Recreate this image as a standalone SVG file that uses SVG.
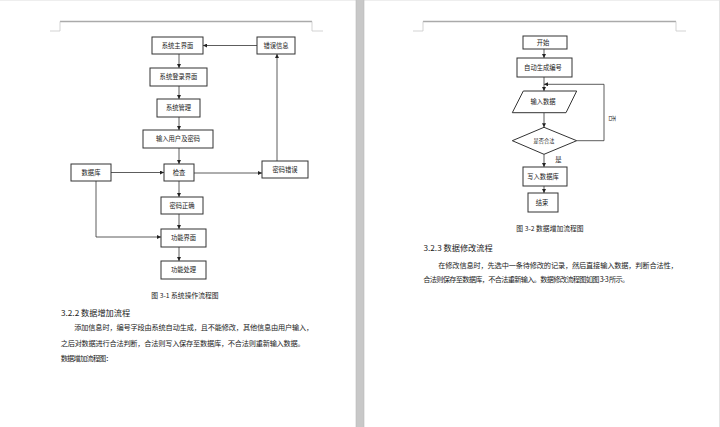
<svg xmlns="http://www.w3.org/2000/svg" width="720" height="427" viewBox="0 0 720 427">
<style>
.box{fill:#fff;stroke:#333;stroke-width:1}
.lbl{font-family:"Noto Sans CJK SC","Liberation Sans",sans-serif;font-size:6.3px;fill:#222;text-anchor:middle}
.cap{font-family:"Noto Sans CJK SC","Liberation Sans",sans-serif;font-size:6.8px;fill:#222;text-anchor:middle}
.h{font-family:"Noto Sans CJK SC","Liberation Sans",sans-serif;font-size:8.2px;fill:#222}
.body{font-family:"Noto Sans CJK SC","Liberation Sans",sans-serif;font-size:7.2px;fill:#222}
.con{fill:none;stroke:#333;stroke-width:0.8}
.hdr{stroke:#aaa;stroke-width:1.3;fill:none}
.tick{stroke:#c8c8c8;stroke-width:0.8;fill:none}
</style>
<defs>
<marker id="ar" markerWidth="4" markerHeight="4" refX="4" refY="2" orient="auto" markerUnits="userSpaceOnUse">
<path d="M0,0 L4,2 L0,4 Z" fill="#222"/>
</marker>
</defs>
<rect x="0" y="0" width="720" height="427" fill="#fff"/>
<line x1="0" y1="0.5" x2="720" y2="0.5" stroke="#eee" stroke-width="1"/>
<rect x="356" y="0" width="8" height="427" fill="#c8c8c8"/>
<line x1="356" y1="0" x2="356" y2="427" stroke="#bbb" stroke-width="0.6"/>
<line x1="364" y1="0" x2="364" y2="427" stroke="#bbb" stroke-width="0.6"/>
<line x1="719.5" y1="0" x2="719.5" y2="427" stroke="#e4e4e4" stroke-width="1"/>

<!-- page headers -->
<g id="page-headers">
<path class="hdr" d="M60,21.5 H312"/>
<path class="tick" d="M60,21.5 V31 H50"/>
<path class="tick" d="M312,21.5 V31 H323"/>
<path class="hdr" d="M423,21.5 H676"/>
<path class="tick" d="M423,21.5 V31 H413"/>
<path class="tick" d="M676,21.5 V31 H686"/>
</g>

<!-- left diagram connectors -->
<g id="connectors-left">
<path class="con" d="M179,54 V68" marker-end="url(#ar)"/>
<path class="con" d="M179,86 V99" marker-end="url(#ar)"/>
<path class="con" d="M179,117 V130" marker-end="url(#ar)"/>
<path class="con" d="M179,148 V164" marker-end="url(#ar)"/>
<path class="con" d="M179,181 V197" marker-end="url(#ar)"/>
<path class="con" d="M179,214 V229" marker-end="url(#ar)"/>
<path class="con" d="M179,247 V261" marker-end="url(#ar)"/>
<path class="con" d="M111,172.5 H164" marker-end="url(#ar)"/>
<path class="con" d="M194,173 H262" marker-end="url(#ar)"/>
<path class="con" d="M277,161 V54" marker-end="url(#ar)"/>
<path class="con" d="M257,45.5 H203" marker-end="url(#ar)"/>
<path class="con" d="M96,181 V237 H161" marker-end="url(#ar)"/>
</g>

<g id="n-main"><rect class="box" x="152" y="37" width="51" height="17"/><text class="lbl" x="177.5" y="47.8">系统主界面</text></g>
<g id="n-err"><rect class="box" x="257" y="37" width="38" height="17"/><text class="lbl" x="276" y="47.8">错误信息</text></g>
<g id="n-login"><rect class="box" x="150" y="68" width="57" height="18"/><text class="lbl" x="178.5" y="79.2">系统登录界面</text></g>
<g id="n-mgr"><rect class="box" x="157" y="99" width="43" height="18"/><text class="lbl" x="178.5" y="110.2">系统管理</text></g>
<g id="n-input"><rect class="box" x="143" y="130" width="70" height="18"/><text class="lbl" x="178" y="141.2">输入用户及密码</text></g>
<g id="n-db"><rect class="box" x="71" y="164" width="40" height="17"/><text class="lbl" x="91" y="174.8">数据库</text></g>
<g id="n-check"><rect class="box" x="164" y="164" width="30" height="17"/><text class="lbl" x="179" y="174.8">检查</text></g>
<g id="n-pwderr"><rect class="box" x="262" y="161" width="46" height="17"/><text class="lbl" x="285" y="171.8">密码错误</text></g>
<g id="n-pwdok"><rect class="box" x="161" y="197" width="42" height="17"/><text class="lbl" x="182" y="207.8">密码正确</text></g>
<g id="n-func"><rect class="box" x="161" y="229" width="45" height="18"/><text class="lbl" x="183.5" y="240.2">功能界面</text></g>
<g id="n-proc"><rect class="box" x="161" y="261" width="45" height="18"/><text class="lbl" x="183.5" y="272.2">功能处理</text></g>

<text class="cap" x="185" y="298.4">图 3-1 系统操作流程图</text>

<text class="h" x="61" y="316">3.2.2 数据增加流程</text>
<text class="body" x="74.3" y="330" textLength="239" lengthAdjust="spacing">添加信息时，编号字段由系统自动生成，且不能修改，其他信息由用户输入，</text>
<text class="body" x="60.7" y="346" textLength="244" lengthAdjust="spacing">之后对数据进行合法判断，合法则写入保存至数据库，不合法则重新输入数据。</text>
<text class="body" x="60.7" y="361" textLength="52" lengthAdjust="spacing">数据增加流程图：</text>

<!-- right diagram connectors -->
<g id="connectors-right">
<path class="con" d="M544,49 V58" marker-end="url(#ar)"/>
<path class="con" d="M544,77 V91" marker-end="url(#ar)"/>
<path class="con" d="M544,112.7 V127.3" marker-end="url(#ar)"/>
<path class="con" d="M544,154.3 V167" marker-end="url(#ar)"/>
<path class="con" d="M544,186 V193" marker-end="url(#ar)"/>
<path class="con" d="M576.7,140.7 H604 V84.3 H544" marker-end="url(#ar)"/>
</g>

<g id="n-start"><rect class="box" x="523" y="36" width="44" height="13"/><text class="lbl" x="543" y="44.7">开始</text></g>
<g id="n-autoid"><rect class="box" x="517" y="58" width="55" height="19"/><text class="lbl" x="543" y="69.7">自动生成编号</text></g>
<g id="n-inputdata"><polygon class="box" points="523.3,91 576.7,91 566,112.7 512.3,112.7"/><text class="lbl" x="543" y="104">输入数据</text></g>
<g id="n-valid"><polygon class="box" points="544,127.3 576.7,140.7 544,154.3 512.3,140.7"/><text class="lbl" x="544" y="142.6" style="font-size:5.2px">是否合法</text></g>
<g id="n-write"><rect class="box" x="523" y="167" width="44" height="19"/><text class="lbl" x="543" y="178.7">写入数据库</text></g>
<g id="n-end"><rect class="box" x="528" y="193" width="30" height="19"/><text class="lbl" x="542" y="204.7">结束</text></g>

<text class="lbl" x="558.5" y="162.3">是</text>
<text class="lbl" transform="translate(612.7,118.3) rotate(90)" y="2.2">否</text>

<text class="cap" x="550" y="231.4">图 3-2 数据增加流程图</text>

<text class="h" x="423.5" y="251">3.2.3 数据修改流程</text>
<text class="body" x="438.3" y="268" textLength="239.4" lengthAdjust="spacing">在修改信息时，先选中一条待修改的记录，然后直接输入数据，判断合法性，</text>
<text class="body" x="423.3" y="282" textLength="206" lengthAdjust="spacing">合法则保存至数据库，不合法重新输入。数据修改流程图如图 3-3 所示。</text>
</svg>
